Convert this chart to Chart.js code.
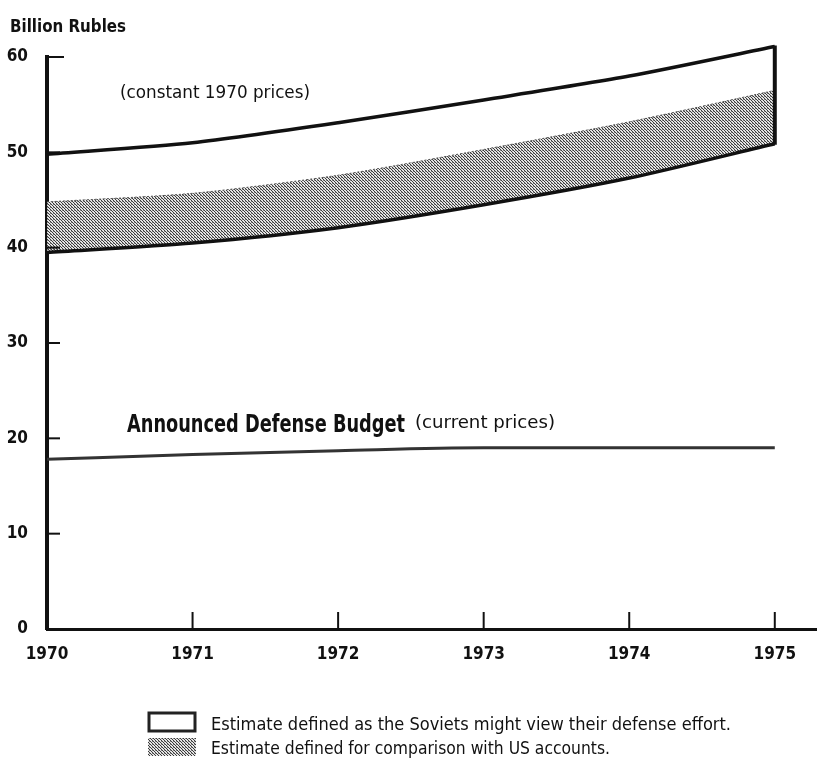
<!DOCTYPE html>
<html>
<head>
<meta charset="utf-8">
<script src="https://cdn.jsdelivr.net/npm/chart.js@4/dist/chart.umd.min.js"></script>
<style>
  html, body { margin: 0; padding: 0; background: #fff; }
  #wrap { width: 817px; height: 771px; position: relative; }
</style>
</head>
<body>
<div id="wrap"><canvas id="grafico" width="817" height="771"></canvas></div>
<script>
// dados (bilhoes de rublos)
const anos = [1970, 1971, 1972, 1973, 1974, 1975];
const sovieticoAlto = [49.8, 51.0, 53.1, 55.5, 58.0, 61.1];
const usAlto = [44.8, 45.7, 47.6, 50.3, 53.2, 56.5];
const usBaixo = [39.5, 40.5, 42.1, 44.5, 47.3, 50.9];
const orcamentoAnunciado = [17.8, 18.3, 18.7, 19.0, 19.0, 19.0];
const ticksY = [0, 10, 20, 30, 40, 50, 60];

const FONTE = '"DejaVu Sans Condensed", "Liberation Sans Narrow", sans-serif';

function pontos(valores) {
  return anos.map((a, i) => ({ x: a, y: valores[i] }));
}

// padrao pontilhado (meio-tom)
function criarPadrao() {
  const c = document.createElement('canvas');
  c.width = 3; c.height = 3;
  const g = c.getContext('2d');
  g.fillStyle = '#e4e4e4';
  g.fillRect(0, 0, 3, 3);
  g.fillStyle = '#3a3a3a';
  g.fillRect(0, 0, 1, 1);
  g.fillRect(1, 1, 1, 1);
  g.fillRect(2, 2, 1, 1);
  g.fillStyle = '#8a8a8a';
  g.fillRect(2, 0, 1, 1);
  return document.getElementById('grafico').getContext('2d').createPattern(c, 'repeat');
}
const padrao = criarPadrao();

// texto ajustado a uma largura
function textoAjustado(ctx, texto, x, y, largura, fonte) {
  ctx.save();
  ctx.font = fonte;
  ctx.fillStyle = '#111';
  ctx.textBaseline = 'alphabetic';
  const w = ctx.measureText(texto).width;
  ctx.translate(x, y);
  ctx.scale(largura / w, 1);
  ctx.fillText(texto, 0, 0);
  ctx.restore();
}

const extras = {
  id: 'extras',
  afterDatasetsDraw(chart) {
    const ctx = chart.ctx;
    const x = chart.scales.x, y = chart.scales.y;
    const area = chart.chartArea;
    ctx.save();
    ctx.strokeStyle = '#111';
    ctx.lineCap = 'butt';

    // marcas do eixo Y (para dentro)
    ctx.lineWidth = 2;
    ticksY.forEach(v => {
      if (v === 0) return;
      const py = y.getPixelForValue(v);
      ctx.beginPath();
      ctx.moveTo(area.left, py);
      ctx.lineTo(area.left + (v === 60 ? 17 : 13), py);
      ctx.stroke();
    });
    // marcas do eixo X (para cima)
    anos.slice(1).forEach(a => {
      const px = x.getPixelForValue(a);
      ctx.beginPath();
      ctx.moveTo(px, area.bottom);
      ctx.lineTo(px, area.bottom - 17);
      ctx.stroke();
    });

    // borda direita da faixa
    const ult = anos.length - 1;
    const px = x.getPixelForValue(anos[ult]);
    ctx.lineWidth = 4;
    ctx.beginPath();
    ctx.moveTo(px, y.getPixelForValue(sovieticoAlto[ult]) - 1);
    ctx.lineTo(px, y.getPixelForValue(usBaixo[ult]) + 1);
    ctx.stroke();
    ctx.restore();

    // rotulos internos
    textoAjustado(ctx, '(constant 1970 prices)', 120, 98, 190, '18px ' + FONTE);
    textoAjustado(ctx, 'Announced Defense Budget', 127, 432, 278, 'bold 24px ' + FONTE);
    textoAjustado(ctx, '(current prices)', 415, 428, 140, '18px ' + FONTE);
  },
  afterDraw(chart) {
    const ctx = chart.ctx;
    textoAjustado(ctx, 'Billion Rubles', 10, 32, 116, 'bold 18px ' + FONTE);

    // legenda
    ctx.save();
    ctx.fillStyle = '#fff';
    ctx.fillRect(149, 713, 46, 18);
    ctx.strokeStyle = '#222';
    ctx.lineWidth = 3;
    ctx.strokeRect(149, 713, 46, 18);
    ctx.fillStyle = padrao;
    ctx.fillRect(148, 738, 48, 18);
    ctx.restore();
    textoAjustado(ctx, 'Estimate defined as the Soviets might view their defense effort.', 211, 730, 520, '17px ' + FONTE);
    textoAjustado(ctx, 'Estimate defined for comparison with US accounts.', 211, 754, 399, '17px ' + FONTE);
  }
};

new Chart(document.getElementById('grafico'), {
  type: 'line',
  data: {
    datasets: [
      {
        label: 'Limite inferior',
        data: pontos(usBaixo),
        borderColor: '#111',
        borderWidth: 3.5,
        pointRadius: 0,
        tension: 0.25,
        clip: false,
        fill: false
      },
      {
        label: 'Estimate defined for comparison with US accounts.',
        data: pontos(usAlto),
        borderColor: '#555',
        borderWidth: 1,
        borderDash: [2, 2],
        pointRadius: 0,
        tension: 0.25,
        clip: false,
        backgroundColor: padrao,
        fill: '-1'
      },
      {
        label: 'Estimate defined as the Soviets might view their defense effort.',
        data: pontos(sovieticoAlto),
        borderColor: '#111',
        borderWidth: 3.5,
        pointRadius: 0,
        tension: 0.25,
        clip: false,
        fill: false
      },
      {
        label: 'Announced Defense Budget',
        data: pontos(orcamentoAnunciado),
        borderColor: '#333',
        borderWidth: 3,
        pointRadius: 0,
        cubicInterpolationMode: 'monotone',
        clip: false,
        fill: false
      }
    ]
  },
  plugins: [extras],
  options: {
    responsive: false,
    animation: false,
    events: [],
    layout: { padding: { top: 57, right: 0, left: 0, bottom: 0 } },
    plugins: {
      legend: { display: false },
      tooltip: { enabled: false }
    },
    scales: {
      x: {
        type: 'linear',
        min: 1970,
        max: 1975.29,
        afterBuildTicks: s => { s.ticks = anos.map(v => ({ value: v })); },
        afterFit: s => { s.height = 142; },
        grid: { display: false, drawTicks: false },
        border: { display: true, color: '#111', width: 3 },
        ticks: {
          padding: 15,
          maxRotation: 0,
          color: '#111',
          font: { family: FONTE, size: 17, weight: 'bold' },
          callback: v => String(v)
        }
      },
      y: {
        min: 0,
        max: 60,
        afterBuildTicks: s => { s.ticks = ticksY.map(v => ({ value: v })); },
        afterFit: s => { s.width = 47; },
        grid: { display: false, drawTicks: false },
        border: { display: true, color: '#111', width: 4 },
        ticks: {
          padding: 19,
          color: '#111',
          font: { family: FONTE, size: 17, weight: 'bold' }
        }
      }
    }
  }
});
</script>
</body>
</html>
